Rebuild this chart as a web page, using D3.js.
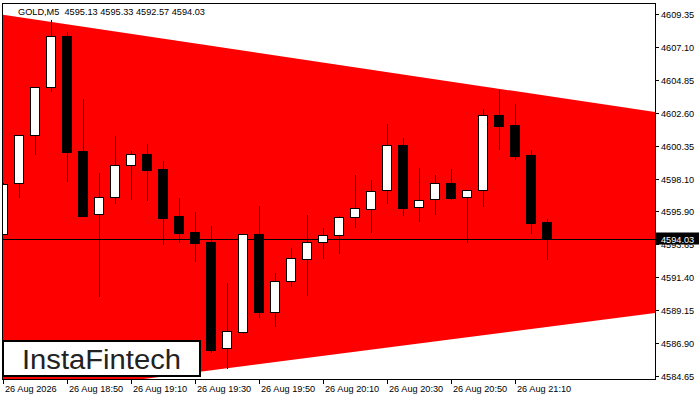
<!DOCTYPE html>
<html>
<head>
<meta charset="utf-8">
<script src="https://cdn.jsdelivr.net/npm/d3@7/dist/d3.min.js"></script>
<style>
html,body{margin:0;padding:0;background:#fff;}
svg{display:block;}
text{font-family:"Liberation Sans",Arial,sans-serif;}
</style>
</head>
<body>
<svg id="chart" width="700" height="400"></svg>
<script>
const title = "GOLD,M5  4595.13 4595.33 4592.57 4594.03";
const opens  = [4594.32,4597.80,4601.07,4604.35,4607.85,4599.98,4595.68,4596.84,4599.03,4599.78,4598.75,4595.57,4594.48,4593.79,4586.58,4587.67,4594.34,4589.00,4591.11,4592.65,4593.77,4594.25,4595.48,4596.03,4597.31,4600.39,4596.16,4596.71,4597.80,4596.84,4597.32,4602.44,4601.76,4599.71,4595.13];
const highs  = [4597.80,4601.09,4604.37,4608.91,4608.10,4603.55,4598.48,4601.03,4600.00,4600.48,4599.32,4596.80,4595.84,4594.89,4591.00,4594.34,4596.25,4591.68,4593.36,4595.64,4594.75,4595.57,4598.37,4598.02,4601.85,4600.89,4598.84,4598.35,4598.77,4597.34,4602.85,4604.17,4603.21,4600.07,4595.33];
const lows   = [4594.25,4596.82,4599.75,4604.05,4597.91,4595.52,4590.02,4596.41,4596.68,4596.59,4593.61,4593.75,4592.45,4586.24,4585.15,4587.54,4588.63,4588.02,4590.74,4590.13,4592.63,4593.00,4594.77,4594.43,4596.41,4595.59,4595.18,4595.66,4596.68,4593.73,4596.20,4600.09,4599.41,4594.36,4592.57];
const closes = [4597.73,4601.07,4604.35,4607.85,4599.95,4595.59,4596.84,4599.03,4599.78,4598.73,4595.45,4594.43,4593.75,4586.45,4587.70,4594.32,4589.04,4591.11,4592.68,4593.77,4594.25,4595.48,4596.09,4597.25,4600.39,4596.13,4596.64,4597.80,4596.82,4597.32,4602.44,4601.73,4599.68,4595.11,4594.03];
const xTickIdx    = [0,4,8,12,16,20,24,28,32];
const xTickLabels = ["26 Aug 2026","26 Aug 18:50","26 Aug 19:10","26 Aug 19:30","26 Aug 19:50","26 Aug 20:10","26 Aug 20:30","26 Aug 20:50","26 Aug 21:10"];
const yTickLabels = ["4609.35","4607.10","4604.85","4602.60","4600.35","4598.10","4595.90","4593.65","4591.40","4589.15","4586.90","4584.65"];
const currentPrice = 4594.03;
const patternIdx    = [0, 40.72];
const patternTop    = [4609.35, 4602.66];
const patternBottom = [4583.16, 4588.95];
const logoText = "InstaFintech";

const svg = d3.select("#chart");
const L = 3, R = 655, T = 4, B = 379;
const x = d3.scaleLinear().domain([0, 40]).range([3.5, 643.5]);
const y = d3.scaleLinear().domain([4584.65, 4609.35]).range([376, 14]);

svg.append("rect").attr("width",700).attr("height",400).attr("fill","#fff");
svg.append("defs").append("clipPath").attr("id","plot")
  .append("rect").attr("x",L).attr("y",T).attr("width",R-L).attr("height",B-T);

const g = svg.append("g").attr("clip-path","url(#plot)");

// pattern triangle
const poly = [
  [x(patternIdx[0]), y(patternTop[0])],
  [x(patternIdx[1]), y(patternTop[1])],
  [x(patternIdx[1]), y(patternBottom[1])],
  [x(patternIdx[0]), y(patternBottom[0])]
];
poly[0][0] = L - 5; poly[3][0] = L - 5;
g.append("polygon").attr("points", poly.map(p=>p.join(",")).join(" ")).attr("fill","#ff0000");

// current price line
g.append("line").attr("x1",L).attr("x2",R)
  .attr("y1",Math.round(y(currentPrice))+0.5).attr("y2",Math.round(y(currentPrice))+0.5)
  .attr("stroke","#000").attr("stroke-width",1);

// candles
const data = opens.map((o,i)=>({i,o,h:highs[i],l:lows[i],c:closes[i]}));
const cg = g.selectAll("g.c").data(data).enter().append("g");
cg.append("line")
  .attr("x1",d=>Math.floor(x(d.i))+0.5).attr("x2",d=>Math.floor(x(d.i))+0.5)
  .attr("y1",d=>Math.round(y(d.h))).attr("y2",d=>Math.round(y(d.l)))
  .attr("stroke","#000").attr("stroke-width",1);
cg.append("rect")
  .attr("x",d=>Math.floor(x(d.i))-4.5)
  .attr("width",9)
  .attr("y",d=>Math.round(y(Math.max(d.o,d.c)))+0.5)
  .attr("height",d=>Math.max(1,Math.round(y(Math.min(d.o,d.c)))-Math.round(y(Math.max(d.o,d.c)))))
  .attr("fill",d=>d.c>=d.o?"#fff":"#000")
  .attr("stroke","#000").attr("stroke-width",1);

// frame
svg.append("rect").attr("x",L-0.5).attr("y",T-0.5).attr("width",R-L+1).attr("height",B-T+1)
  .attr("fill","none").attr("stroke","#000").attr("stroke-width",1);

// title
svg.append("text").attr("x",18).attr("y",14.5).attr("font-size","9.2px").attr("fill","#000")
  .attr("xml:space","preserve").style("white-space","pre").text(title);

// y axis
yTickLabels.forEach(t=>{
  const v = +t, yy = Math.round(y(v))+0.5;
  svg.append("line").attr("x1",R).attr("x2",R+4).attr("y1",yy).attr("y2",yy).attr("stroke","#000");
  svg.append("text").attr("x",661).attr("y",yy+3.3).attr("font-size","9.2px").attr("fill","#000").text(t);
});

// current price box
const cy = Math.round(y(currentPrice));
svg.append("rect").attr("x",R+1).attr("y",cy-6.5).attr("width",43).attr("height",12).attr("fill","#000");
svg.append("text").attr("x",661).attr("y",cy+3.5).attr("font-size","9.2px").attr("fill","#fff").text(currentPrice.toFixed(2));

// x axis
xTickIdx.forEach((idx,k)=>{
  const xx = Math.floor(x(idx))+0.5 - 0.5*(idx===0?0:0);
  svg.append("line").attr("x1",xx).attr("x2",xx).attr("y1",B).attr("y2",B+5).attr("stroke","#000");
  svg.append("text").attr("x",xx+1.5).attr("y",392).attr("font-size","9.2px").attr("fill","#000").text(xTickLabels[k]);
});

// logo
svg.append("rect").attr("x",3).attr("y",341).attr("width",197).attr("height",35)
  .attr("fill","#fff").attr("stroke","#000").attr("stroke-width",2);
svg.append("text").attr("x",22).attr("y",369).attr("font-size","27px")
  .attr("font-family","Roboto, 'Open Sans', sans-serif").attr("font-weight",400)
  .attr("fill","#222").attr("textLength",159).attr("lengthAdjust","spacingAndGlyphs").text(logoText);
</script>
</body>
</html>
